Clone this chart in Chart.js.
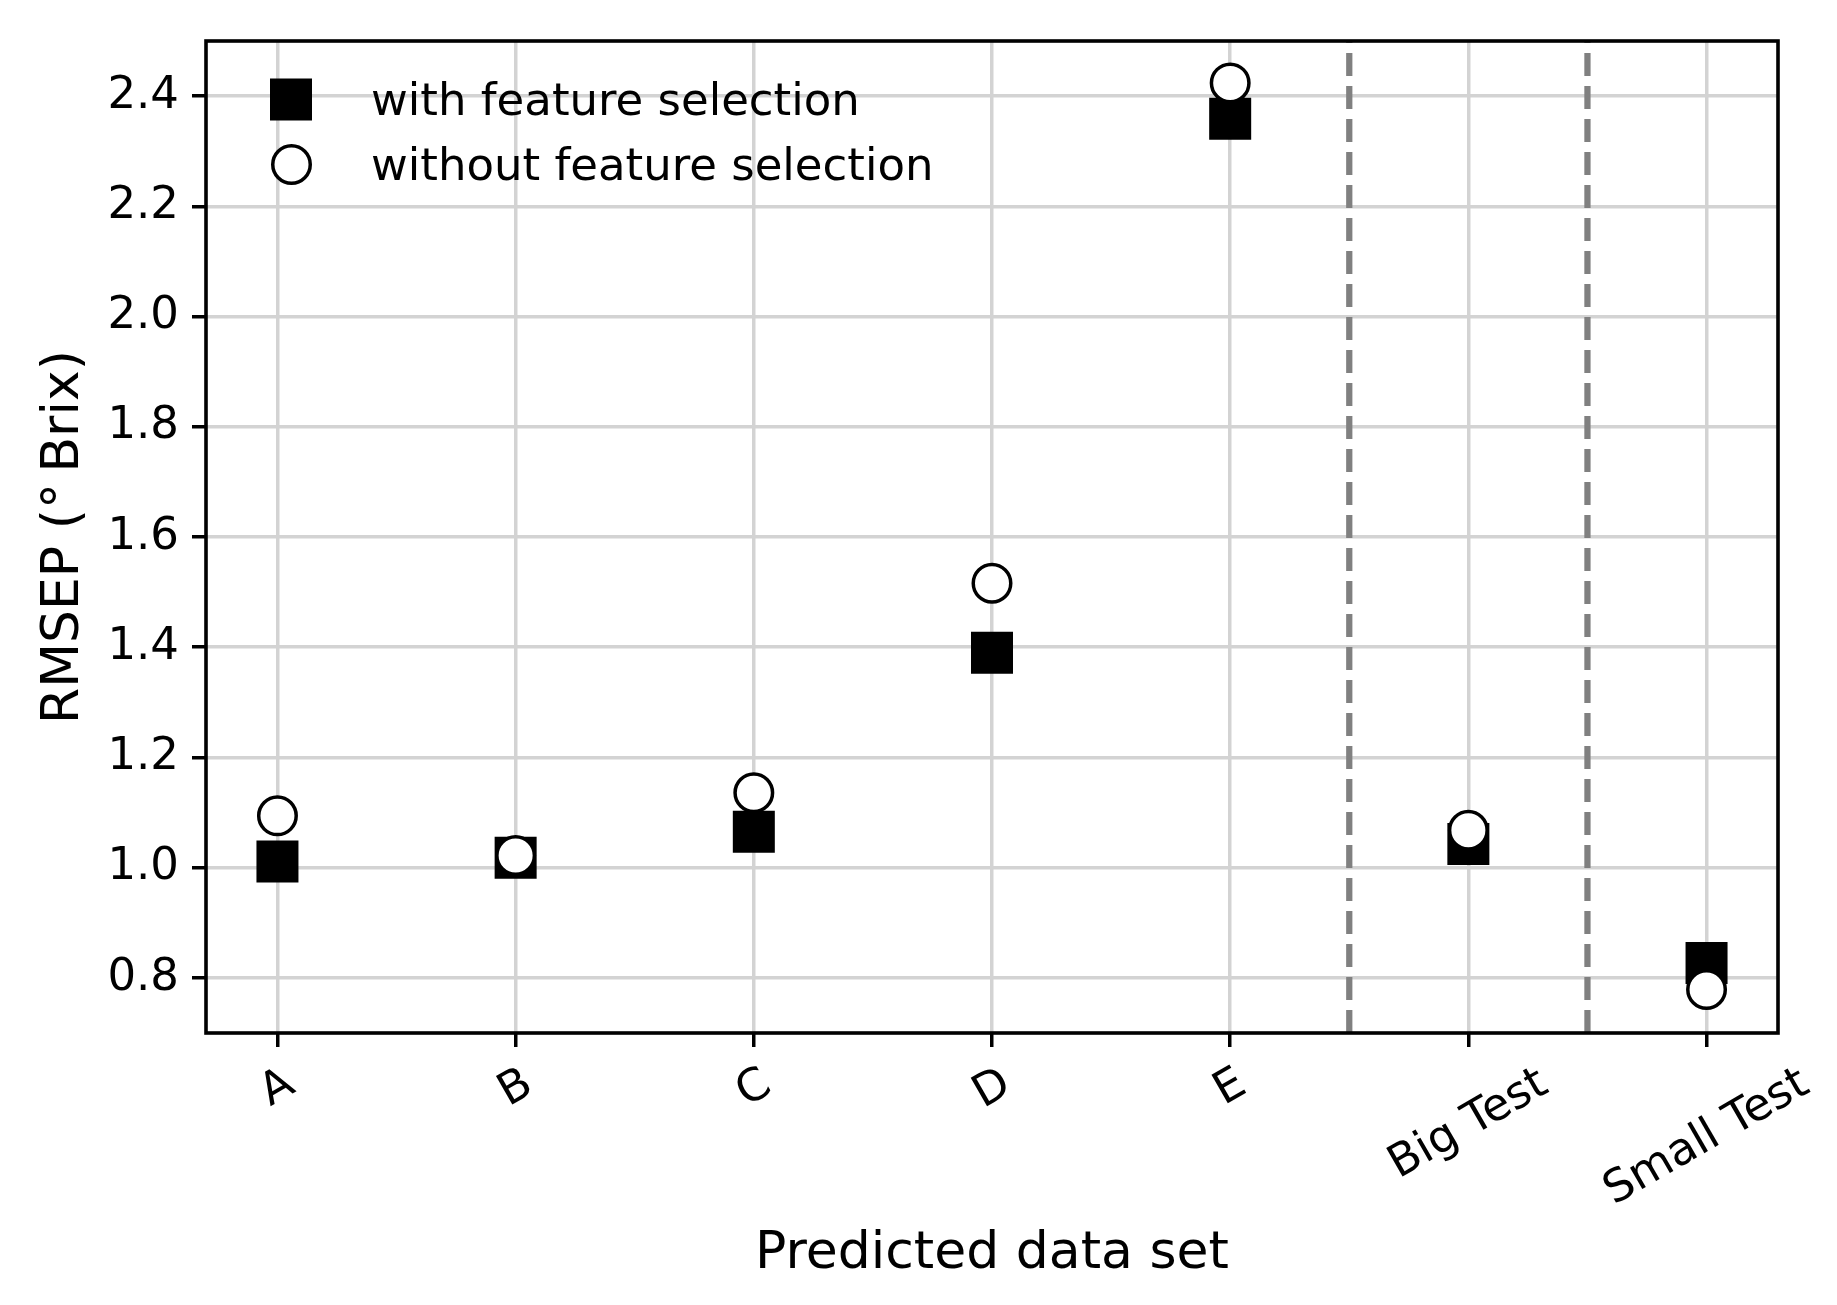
<!DOCTYPE html>
<html>
<head>
<meta charset="utf-8">
<script src="https://cdn.jsdelivr.net/npm/chart.js@4.4.0/dist/chart.umd.min.js"></script>
<style>
  html, body { margin: 0; padding: 0; background: #fff; }
  #wrap { width: 1837px; height: 1305px; position: relative; }
</style>
</head>
<body>
<div id="wrap"><canvas id="myChart"></canvas></div>
<script>
const categories = ['A', 'B', 'C', 'D', 'E', 'Big Test', 'Small Test'];
const withFeatureSelection = [1.011, 1.018, 1.065, 1.390, 2.359, 1.043, 0.827];
const withoutFeatureSelection = [1.094, 1.022, 1.136, 1.516, 2.424, 1.068, 0.779];
const yTicks = [0.8, 1.0, 1.2, 1.4, 1.6, 1.8, 2.0, 2.2, 2.4];
const separators = [4.5, 5.5];

const FONT = "'DejaVu Sans', sans-serif";

// frame, rotated x labels and legend, like matplotlib draws them
const extras = {
  id: 'extras',
  afterDraw(chart) {
    const { ctx, chartArea: a } = chart;
    const xs = chart.scales.x;
    ctx.save();
    ctx.strokeStyle = '#000';
    ctx.lineWidth = 3.6;
    ctx.strokeRect(a.left, a.top, a.right - a.left, a.bottom - a.top);

    // x tick labels rotated 30 deg, box centred under tick
    const fs = 45;
    ctx.font = fs + 'px ' + FONT;
    ctx.fillStyle = '#000';
    ctx.textAlign = 'center';
    ctx.textBaseline = 'alphabetic';
    const ang = Math.PI / 6;
    const top = a.bottom + 14 + 14.6;
    categories.forEach((c, i) => {
      const w = ctx.measureText(c).width;
      const h = 0.968 * fs;
      const H = w * Math.sin(ang) + h * Math.cos(ang);
      const cx = xs.getPixelForValue(i);
      const cy = top + H / 2;
      ctx.save();
      ctx.translate(cx, cy);
      ctx.rotate(-ang);
      ctx.fillText(c, 0, 0.276 * fs);
      ctx.restore();
    });

    // legend
    ctx.textAlign = 'left';
    ctx.fillRect(291 - 21, 99.5 - 21, 42, 42);
    ctx.fillText('with feature selection', 371, 115);
    ctx.beginPath();
    ctx.arc(291.5, 164.5, 18.75, 0, Math.PI * 2);
    ctx.fillStyle = '#fff';
    ctx.fill();
    ctx.lineWidth = 3.5;
    ctx.stroke();
    ctx.fillStyle = '#000';
    ctx.fillText('without feature selection', 371, 180);
    ctx.restore();
  }
};

const chart = new Chart(document.getElementById('myChart'), {
  type: 'scatter',
  data: {
    datasets: [
      {
        label: 'without feature selection',
        data: withoutFeatureSelection.map((v, i) => ({ x: i, y: v })),
        pointStyle: 'circle',
        pointRadius: 18.75,
        backgroundColor: '#fff',
        borderColor: '#000',
        borderWidth: 3.5,
        order: 1
      },
      {
        label: 'with feature selection',
        data: withFeatureSelection.map((v, i) => ({ x: i, y: v })),
        pointStyle: 'rect',
        pointRadius: 29.7,
        backgroundColor: '#000',
        borderWidth: 0,
        order: 2
      },
      ...separators.map(s => ({
        label: 'sep',
        data: [{ x: s, y: 0.7 }, { x: s, y: 2.5 }],
        showLine: true,
        borderColor: '#808080',
        borderWidth: 6.25,
        borderDash: [23, 10],
        pointRadius: 0,
        order: 3
      }))
    ]
  },
  options: {
    responsive: true,
    maintainAspectRatio: false,
    animation: false,
    events: [],
    layout: { padding: { left: 0, top: 41, right: 59, bottom: 0 } },
    scales: {
      x: {
        type: 'linear',
        min: -0.3,
        max: 6.3,
        afterBuildTicks: s => { s.ticks = categories.map((c, i) => ({ value: i })); },
        afterFit: s => { s.height = 272; },
        ticks: { display: false },
        grid: { color: '#d3d3d3', lineWidth: 3.5, tickColor: '#000', tickWidth: 3.5, tickLength: 14 },
        border: { display: false },
        title: {
          display: true,
          text: 'Predicted data set',
          color: '#000',
          font: { family: FONT, size: 52, lineHeight: 1 },
          padding: { top: 0, bottom: 25 }
        }
      },
      y: {
        min: 0.7,
        max: 2.5,
        afterBuildTicks: s => { s.ticks = yTicks.map(v => ({ value: v })); },
        afterFit: s => { s.width = 206; },
        ticks: {
          color: '#000',
          font: { family: FONT, size: 45 },
          padding: 13,
          callback: v => v.toFixed(1)
        },
        grid: { color: '#d3d3d3', lineWidth: 3.5, tickColor: '#000', tickWidth: 3.5, tickLength: 14 },
        border: { display: false },
        title: {
          display: true,
          text: 'RMSEP (°\u2009Brix)',
          color: '#000',
          font: { family: FONT, size: 52, lineHeight: 1 },
          padding: { top: 38, bottom: 0 }
        }
      }
    },
    plugins: {
      legend: { display: false },
      tooltip: { enabled: false }
    }
  },
  plugins: [extras]
});
</script>
</body>
</html>
